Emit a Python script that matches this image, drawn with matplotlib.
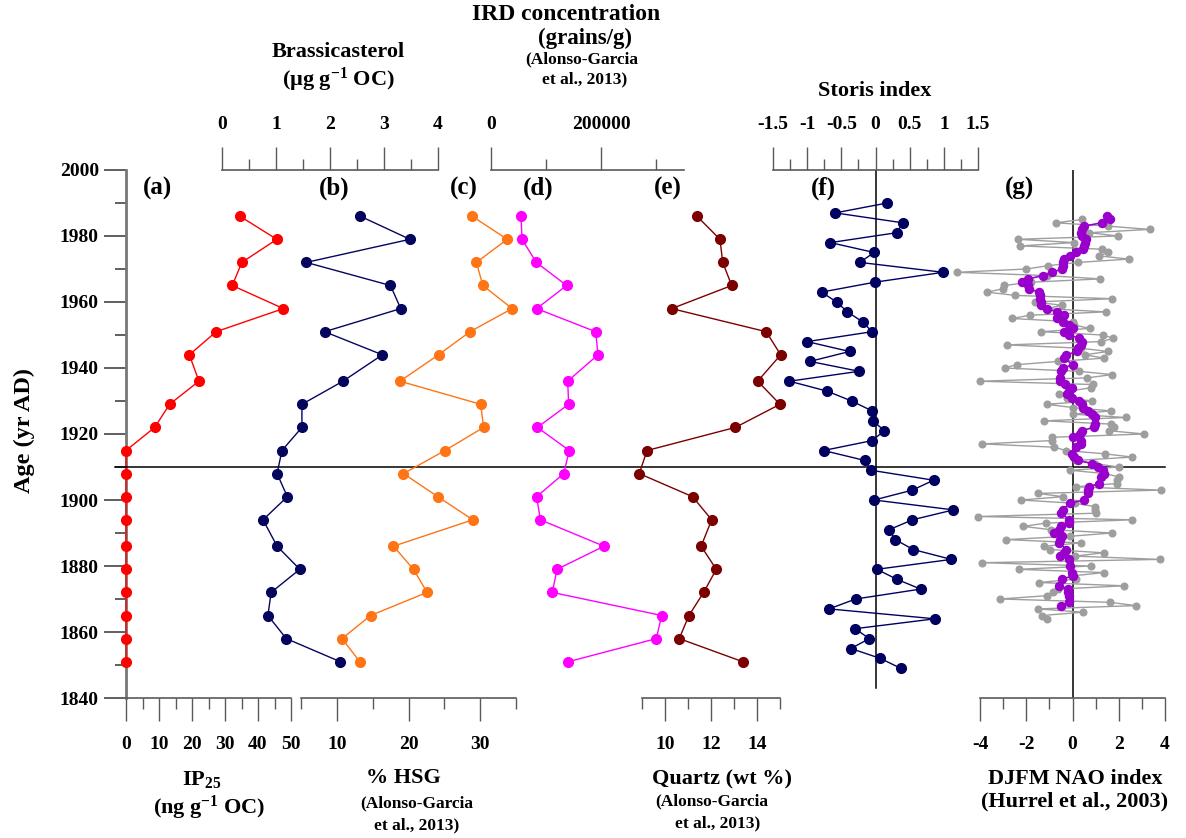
import numpy as np
import matplotlib
matplotlib.use("Agg")
import matplotlib.pyplot as plt
from matplotlib.ticker import FixedLocator, MultipleLocator

# ---------------- data ----------------
# core sample ages (yr AD), shared by proxies (a)-(e)
sample_age = [1986, 1979, 1972, 1965, 1958, 1951, 1944, 1936, 1929, 1922,
              1915, 1908, 1901, 1894, 1886, 1879, 1872, 1865, 1858, 1851]
ip25 = [34.5, 45.7, 35.1, 32.2, 47.7, 27.3, 19.2, 22.1, 13.2, 8.7,
        0, 0, 0, 0, 0, 0, 0, 0, 0, 0]
brassicasterol = [2.56, 3.48, 1.56, 3.12, 3.31, 1.90, 2.97, 2.24, 1.48, 1.48,
                  1.11, 1.02, 1.21, 0.76, 1.02, 1.44, 0.91, 0.85, 1.19, 2.19]
hsg = [28.9, 33.8, 29.5, 30.4, 34.5, 28.6, 24.2, 18.8, 30.1, 30.5,
       25.1, 19.3, 24.1, 29.0, 17.9, 20.7, 22.6, 14.7, 10.7, 13.2]
ird = [54500, 56400, 82400, 137600, 83000, 190300, 194500, 139400, 141200, 84200,
       142400, 132100, 83000, 89700, 205500, 120000, 111500, 310300, 300600, 140600]
quartz = [11.39, 12.39, 12.51, 12.90, 10.29, 14.40, 15.03, 14.03, 15.00, 13.06,
          9.22, 8.88, 11.20, 12.03, 11.57, 12.23, 11.68, 11.04, 10.62, 13.38]

# Storis index, 3-yr steps
storis_age = [1990, 1987, 1984, 1981, 1978, 1975, 1972, 1969, 1966, 1963,
              1960, 1957, 1954, 1951, 1948, 1945, 1942, 1939, 1936, 1933,
              1930, 1927, 1924, 1921, 1918, 1915, 1912, 1909, 1906, 1903,
              1900, 1897, 1894, 1891, 1888, 1885, 1882, 1879, 1876, 1873,
              1870, 1867, 1864, 1861, 1858, 1855, 1852, 1849]
storis = [0.17, -0.59, 0.40, 0.31, -0.66, -0.02, -0.23, 0.99, -0.01, -0.79,
          -0.57, -0.41, -0.19, -0.05, -1.00, -0.38, -0.96, -0.24, -1.26, -0.71,
          -0.35, -0.05, -0.04, 0.13, -0.05, -0.76, -0.16, -0.06, 0.85, 0.54,
          -0.02, 1.14, 0.54, 0.20, 0.29, 0.55, 1.11, 0.02, 0.31, 0.66,
          -0.29, -0.68, 0.87, -0.30, -0.09, -0.36, 0.07, 0.37]

# DJFM NAO index, annual values 1985 -> 1864
nao_year = list(range(1985, 1863, -1))
nao_djfm = [0.41, -0.72, 1.52, 3.33, 0.72, 1.97, -2.35, 0.07, -2.25, 1.28,
            1.55, 1.14, 2.43, 0.25, -1.06, -1.99, -5.00, -1.10, 1.20, -1.78,
            -2.97, -3.00, -3.70, -2.48, 1.71, -1.62, -0.46, -1.10, 1.43, -1.83,
            -2.62, 0.04, 0.07, 0.75, -1.35, 1.30, 1.77, 1.23, -2.83, 0.35,
            1.55, 0.52, 1.38, -0.62, -2.42, -2.94, 0.28, 1.71, 0.62, -4.00,
            0.87, 0.78, -0.14, -0.57, -0.25, 0.83, -1.12, 0.03, 1.67, 0.03,
            2.30, -1.22, 1.65,
            1.80, 1.57, 3.10, -0.90, -0.90, -3.90, -0.78, -0.30, 1.39, 2.59,
            0.17, 0.97, 2.01, -0.09, 1.41, 1.99, 1.94, 1.91, 0.14, 3.81,
            -1.49, -0.41, -2.23, 0.10, 0.99, 0.97, 1.03, -4.07, 2.59, -1.16,
            -2.12, -0.94, 1.70, -0.12, -2.86, 0.38, -1.22, -0.99, 1.35, 0.10,
            3.78, -3.90, 0.80, -2.33, 1.36, -0.01, 0.13, -1.45, 2.23, -0.62,
            -0.83, -1.12, -3.12, 1.61, 2.74, -1.48, 0.45, -1.32, -1.12]

# smoothed NAO
nao_smooth_year = [1986, 1985, 1984, 1983, 1982, 1981, 1980, 1979, 1978, 1977,
                   1976, 1975, 1974, 1973, 1972, 1971, 1970, 1969, 1968, 1967,
                   1966, 1965, 1964, 1963, 1962, 1961, 1960, 1959, 1958, 1957,
                   1956, 1955, 1954, 1953, 1952, 1951, 1950, 1949, 1948, 1947,
                   1946, 1945, 1944, 1943, 1941, 1940, 1939, 1937, 1936, 1935,
                   1934, 1933, 1932, 1931, 1930, 1929, 1928, 1927, 1926, 1925,
                   1923, 1922, 1921, 1920, 1919, 1918, 1917, 1916, 1914, 1913,
                   1912, 1911, 1910, 1909, 1908, 1907, 1905, 1904, 1903, 1902,
                   1900, 1899, 1897, 1896, 1894, 1893, 1892, 1891, 1890, 1889,
                   1888, 1887, 1885, 1884, 1883, 1882, 1880, 1878, 1877, 1876,
                   1874, 1873, 1872, 1871, 1869, 1868]
nao_smooth = [1.49, 1.61, 1.26, 0.51, 0.43, 0.36, 0.39, 0.58, 0.54, 0.49,
              0.46, 0.16, -0.10, -0.36, -0.43, -0.43, -0.45, -0.87, -1.29, -1.91,
              -2.19, -1.91, -1.88, -1.46, -1.42, -1.39, -1.36, -1.36, -1.09, -0.68,
              -0.36, -0.68, -0.39, -0.14, 0.04, -0.36, -0.14, 0.29, 0.39, 0.35,
              0.22, 0.19, -0.26, -0.36, 0.01, -0.41, -0.48, -0.54, -0.54, -0.33,
              -0.04, -0.16, -0.23, -0.04, 0.29, 0.39, 0.46, 0.68, 0.83, 0.97,
              0.97, 0.91, 0.39, 0.32, 0.01, 0.35, 0.36, 0.13, -0.01, 0.07,
              0.25, 0.86, 1.12, 1.30, 1.35, 1.23, 1.14, 0.72, 0.68, 0.68,
              0.48, -0.12, -0.42, -0.48, -0.14, -0.17, -0.51, -0.58, -0.80, -0.45,
              -0.52, -0.59, -0.26, -0.36, -0.52, -0.16, -0.10, -0.01, 0.01, -0.45,
              -0.58, -0.19, -0.19, -0.16, -0.16, -0.48]

# tick values / labels
age_major = [1840, 1860, 1880, 1900, 1920, 1940, 1960, 1980, 2000]
ip25_ticks = [0, 10, 20, 30, 40, 50]
brassi_ticks = [0, 1, 2, 3, 4]
hsg_ticks = [10, 20, 30]
ird_ticks = [0, 200000]
ird_labels = ["0", "200000"]
quartz_ticks = [10, 12, 14]
storis_ticks = [-1.5, -1, -0.5, 0, 0.5, 1, 1.5]
storis_labels = ["-1.5", "-1", "-0.5", "0", "0.5", "1", "1.5"]
nao_ticks = [-4, -2, 0, 2, 4]

# ---------------- style ----------------
plt.rcParams["font.family"] = ["Liberation Serif", "DejaVu Serif"]
plt.rcParams["font.weight"] = "bold"
plt.rcParams["axes.unicode_minus"] = False
plt.rcParams["mathtext.fontset"] = "custom"
plt.rcParams["mathtext.rm"] = "Liberation Serif:bold"
plt.rcParams["mathtext.bf"] = "Liberation Serif:bold"
plt.rcParams["mathtext.it"] = "Liberation Serif:bold:italic"

W, H = 1186, 838
fig = plt.figure(figsize=(W / 100, H / 100), dpi=100)
fig.patch.set_facecolor("white")

Y_TOP, Y_BOT = 170, 698
AX_COL = "#5a5a5a"
TICK_FS = 14
TITLE_FS = 16
REF_FS = 12.5
MS = 7


def px(x, y):
    return x / W, 1 - y / H


def panel(x0, x1, xlim, side, major, minor, labels=None):
    ax = fig.add_axes([x0 / W, (H - Y_BOT) / H, (x1 - x0) / W, (Y_BOT - Y_TOP) / H])
    ax.set_xlim(*xlim)
    ax.set_ylim(1840, 2000)
    ax.patch.set_alpha(0)
    for s in ax.spines.values():
        s.set_visible(False)
    ax.spines[side].set_visible(True)
    ax.spines[side].set_color(AX_COL)
    ax.spines[side].set_linewidth(1.2)
    ax.xaxis.set_ticks_position(side)
    ax.xaxis.set_label_position(side)
    ax.xaxis.set_major_locator(FixedLocator(major))
    ax.xaxis.set_minor_locator(FixedLocator(minor))
    if labels is not None:
        ax.set_xticklabels(labels)
    pad = 11 if side == "bottom" else 10
    ax.tick_params(axis="x", which="major", direction="out", length=16.5, width=1.0,
                   color=AX_COL, labelsize=TICK_FS, pad=pad)
    ax.tick_params(axis="x", which="minor", direction="out", length=8, width=1.0,
                   color=AX_COL)
    ax.tick_params(axis="y", which="both", left=False, right=False,
                   labelleft=False, labelright=False)
    return ax


def series(ax, x, y, color, ms=MS, lw=1.0, z=3):
    ax.plot(x, y, "-", color=color, lw=lw, marker="o", ms=ms, mec=color, mfc=color,
            clip_on=False, zorder=z)


# (a) IP25 -- host axes carrying the age axis
ax_a = panel(126, 291, (0, 50), "bottom", ip25_ticks, [5, 15, 25, 35, 45])
ax_a.spines["left"].set_visible(True)
ax_a.spines["left"].set_color("#777777")
ax_a.spines["left"].set_linewidth(2)
ax_a.yaxis.set_major_locator(FixedLocator(age_major))
ax_a.yaxis.set_minor_locator(MultipleLocator(10))
ax_a.tick_params(axis="y", which="major", left=True, labelleft=True, length=16,
                 width=1.2, color="#444444", labelsize=TICK_FS, pad=3.5)
ax_a.tick_params(axis="y", which="minor", left=True, length=8, width=1.2,
                 color="#444444")
series(ax_a, ip25, sample_age, "#ff0000")
# 1910 reference line across all panels
ax_a.axhline(1910, xmin=(115 - 126) / 165, xmax=(1165 - 126) / 165, color="black",
             lw=1.1, clip_on=False, zorder=5)

# (b) Brassicasterol
ax_b = panel(222, 438, (0, 4), "top", brassi_ticks, [0.5, 1.5, 2.5, 3.5])
series(ax_b, brassicasterol, sample_age, "#05055e")

# (c) %HSG
ax_c = panel(301.25, 515.75, (5, 35), "bottom", hsg_ticks, [5, 15, 25, 35])
series(ax_c, hsg, sample_age, "#ff7415")

# (d) IRD concentration
ax_d = panel(491, 683.5, (0, 350000), "top", ird_ticks, [100000, 300000], ird_labels)
series(ax_d, ird, sample_age, "#ff00ff")

# (e) Quartz
ax_e = panel(642, 780, (9, 15), "bottom", quartz_ticks, [9, 11, 13, 15])
series(ax_e, quartz, sample_age, "#7c0000")

# (f) Storis index
ax_f = panel(773, 978, (-1.5, 1.5), "top", storis_ticks,
             [-1.25, -0.75, -0.25, 0.25, 0.75, 1.25], storis_labels)
ax_f.axvline(0, ymin=(1843 - 1840) / 160, ymax=1, color="black", lw=1.1, zorder=2)
series(ax_f, storis, storis_age, "#000060")

# (g) DJFM NAO index
ax_g = panel(980, 1165, (-4, 4), "bottom", nao_ticks, [-3, -1, 1, 3])
ax_g.axvline(0, color="black", lw=1.1, zorder=2)
ax_g.plot(nao_djfm, nao_year, "-", color="#9e9e9e", lw=1.0, marker="o", ms=4.8,
          mec="#9e9e9e", mfc="#9e9e9e", clip_on=False, zorder=3)
ax_g.plot(nao_smooth, nao_smooth_year, "-", color="#9900cc", lw=1.2, marker="o",
          ms=5.8, mec="#9900cc", mfc="#9900cc", clip_on=False, zorder=4)

# ---------------- text ----------------
fig.text(*px(24, 430), "Age (yr AD)", rotation=90, ha="center", va="center",
         fontsize=17.5)

for lab, x in zip(["(a)", "(b)", "(c)", "(d)", "(e)", "(f)", "(g)"],
                  [158, 334, 464, 538, 668, 823, 1020]):
    fig.text(*px(x, 188), lab, ha="center", va="center", fontsize=18)

# top titles
fig.text(*px(338, 52), "Brassicasterol", ha="center", va="center", fontsize=TITLE_FS)
fig.text(*px(338, 80), r"(µg g$^{\mathrm{-1}}$ OC)", ha="center", va="center",
         fontsize=TITLE_FS)
fig.text(*px(566, 15), "IRD concentration", ha="center", va="center", fontsize=17)
fig.text(*px(585, 38), "(grains/g)", ha="center", va="center", fontsize=16.5)
fig.text(*px(582, 59), "(Alonso-Garcia", ha="center", va="center", fontsize=REF_FS)
fig.text(*px(585, 79), "et al., 2013)", ha="center", va="center", fontsize=REF_FS)
fig.text(*px(875, 91), "Storis index", ha="center", va="center", fontsize=TITLE_FS)

# bottom titles
fig.text(*px(202, 779), r"IP$_{\mathrm{25}}$", ha="center", va="center", fontsize=TITLE_FS)
fig.text(*px(209, 808), r"(ng g$^{\mathrm{-1}}$ OC)", ha="center", va="center",
         fontsize=TITLE_FS)
fig.text(*px(403, 778), "% HSG", ha="center", va="center", fontsize=TITLE_FS)
fig.text(*px(417, 803), "(Alonso-Garcia", ha="center", va="center", fontsize=REF_FS)
fig.text(*px(417, 825), "et al., 2013)", ha="center", va="center", fontsize=REF_FS)
fig.text(*px(722, 779), "Quartz (wt %)", ha="center", va="center", fontsize=TITLE_FS)
fig.text(*px(712, 801), "(Alonso-Garcia", ha="center", va="center", fontsize=REF_FS)
fig.text(*px(718, 823), "et al., 2013)", ha="center", va="center", fontsize=REF_FS)
fig.text(*px(1075, 779), "DJFM NAO index", ha="center", va="center", fontsize=TITLE_FS)
fig.text(*px(1075, 801), "(Hurrel et al., 2003)", ha="center", va="center",
         fontsize=TITLE_FS)

fig.savefig("out.png", dpi=100, facecolor="white")
